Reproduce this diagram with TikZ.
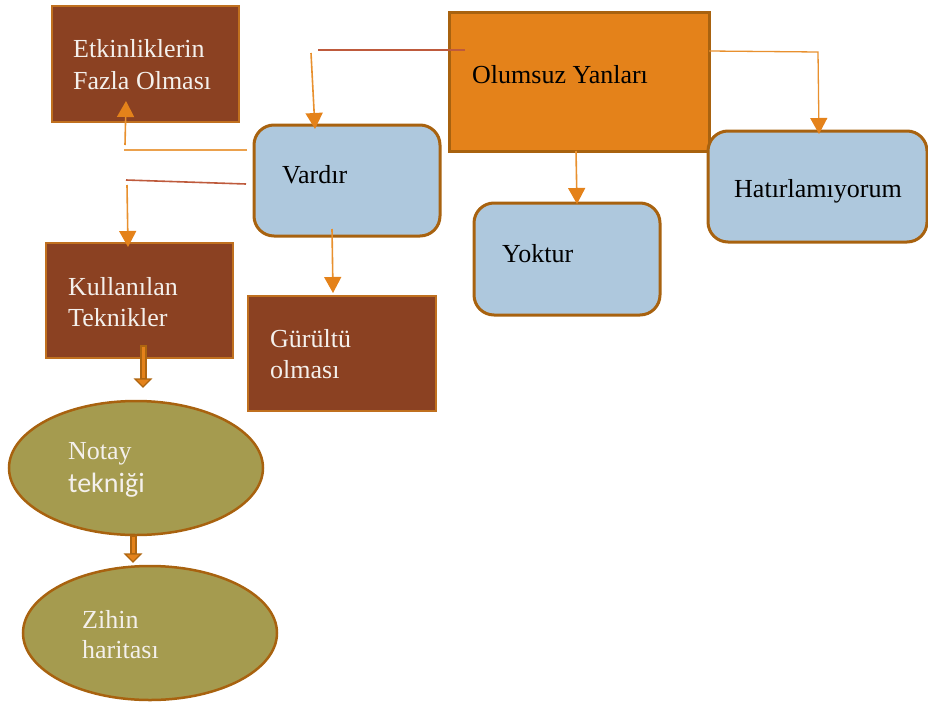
\documentclass[tikz,border=0pt]{standalone}
\usepackage{fontspec}
\setmainfont{Liberation Serif}
\newfontfamily\calibri{Carlito}
\usetikzlibrary{arrows.meta,shapes.geometric}

\definecolor{brownfill}{HTML}{8B4122}
\definecolor{brownedge}{HTML}{C0701F}
\definecolor{orangefill}{HTML}{E4821A}
\definecolor{darkedge}{HTML}{A8620F}
\definecolor{bluefill}{HTML}{AEC8DD}
\definecolor{olivefill}{HTML}{A59B4F}
\definecolor{linkorange}{HTML}{E8902E}
\definecolor{linkred}{HTML}{BE5A3C}
\definecolor{lighttext}{HTML}{F4F0EC}

\tikzset{
  box/.style={rectangle, inner sep=0pt, outer sep=0pt, anchor=north west},
  brownbox/.style={box, fill=brownfill, draw=brownedge, line width=1.5pt},
  orangebox/.style={box, fill=orangefill, draw=darkedge, line width=3pt},
  bluebox/.style={box, fill=bluefill, draw=darkedge, line width=3pt, rounded corners=20pt},
  oval/.style={ellipse, inner sep=0pt, outer sep=0pt, fill=olivefill, draw=darkedge, line width=2.5pt,
    minimum width=254pt, minimum height=134pt},
  lbl/.style={anchor=base west, inner sep=0pt, font=\fontsize{26}{31}\selectfont},
  darklbl/.style={lbl, text=black},
  lightlbl/.style={lbl, text=lighttext},
  arr/.style={draw=linkorange, line width=1.6pt, -{Triangle[width=17pt,length=16pt,fill=orangefill,color=orangefill]}},
  orangeline/.style={draw=linkorange!85!white, line width=1.6pt},
  redline/.style={draw=linkred, line width=1.6pt},
  shaft/.style={line width=7pt, draw=darkedge!90!orangefill},
  shaftcore/.style={line width=3pt, draw=orangefill},
  tiphead/.style={fill=orangefill, draw=darkedge!90!orangefill, line width=1.2pt, line join=miter},
}

\begin{document}
\begin{tikzpicture}[x=1pt, y=-1pt]
\useasboundingbox (0,0) rectangle (928,701);

% boxes
\node[brownbox, minimum width=187pt, minimum height=116pt] (ek) at (52,6) {};
\node[orangebox, minimum width=260pt, minimum height=138pt] (ol) at (449,13) {};
\node[bluebox, minimum width=186pt, minimum height=111pt] (va) at (254,125) {};
\node[bluebox, minimum width=219pt, minimum height=111pt] (ha) at (708,131) {};
\node[bluebox, minimum width=186pt, minimum height=112pt] (yo) at (474,203) {};
\node[brownbox, minimum width=187pt, minimum height=115pt] (ku) at (46,243) {};
\node[brownbox, minimum width=188pt, minimum height=115pt] (gu) at (248,296) {};
\node[oval] (no) at (136,468) {};
\node[oval] (zi) at (150,633) {};

% texts
\node[lightlbl] (ekt1) at (73,58) {Etkinliklerin};
\node[lightlbl] (ekt2) at (73,89) {Fazla Olması};
\node[darklbl] (olt) at (472,83) {Olumsuz Yanları};
\node[darklbl] (vat) at (282,183) {Vardır};
\node[darklbl] (hat) at (734,197) {Hatırlamıyorum};
\node[darklbl] (yot) at (502,262) {Yoktur};
\node[lightlbl] (kut1) at (68,295) {Kullanılan};
\node[lightlbl] (kut2) at (68,326) {Teknikler};
\node[lightlbl] (gut1) at (270,347) {Gürültü};
\node[lightlbl] (gut2) at (270,378) {olması};
\node[lightlbl] (not1) at (68,459) {Notay};
\node[lightlbl, font=\calibri\fontsize{28}{31}\selectfont] (not2) at (68,492) {tekniği};
\node[lightlbl] (zit1) at (82,628) {Zihin};
\node[lightlbl] (zit2) at (82,658) {haritası};

% connector end points
\coordinate (olA) at (465,50);
\coordinate (olB) at (318,50);
\coordinate (vaIn) at (311,53);
\coordinate (vaTip) at (315,129);
\coordinate (olR) at (709,51);
\coordinate (haBend) at (818,52);
\coordinate (haTip) at (819,134);
\coordinate (olD) at (576,151);
\coordinate (yoTip) at (577,204);
\coordinate (vaL1) at (247,150);
\coordinate (ekB) at (124,150);
\coordinate (ekS) at (125,145);
\coordinate (ekTip) at (126,101);
\coordinate (vaL2) at (246,184);
\coordinate (kuB) at (126,180);
\coordinate (kuS) at (127,185);
\coordinate (kuTip) at (128,247);
\coordinate (vaD) at (332,229);
\coordinate (guTip) at (333,293);

% Olumsuz Yanlari -> Vardir
\draw[redline] (olA) -- (olB);
\draw[arr] (vaIn) -- (vaTip);
% Olumsuz Yanlari -> Hatirlamiyorum
\draw[arr, line width=1.3pt] (olR) -- (haBend) -- (haTip);
% Olumsuz Yanlari -> Yoktur
\draw[arr] (olD) -- (yoTip);
% Vardir -> Etkinliklerin Fazla Olmasi
\draw[orangeline] (vaL1) -- (ekB);
\draw[arr] (ekS) -- (ekTip);
% Vardir -> Kullanilan Teknikler
\draw[redline] (vaL2) -- (kuB);
\draw[arr] (kuS) -- (kuTip);
% Vardir -> Gurultu olmasi
\draw[arr] (vaD) -- (guTip);

% hollow block arrows between the techniques
\coordinate (kuA) at (143,345);
\coordinate (kuAE) at (143,379);
\coordinate (noA) at (133,535);
\coordinate (noAE) at (133,554);
\draw[shaft] (kuA) -- (kuAE);
\draw[shaftcore] ([yshift=-1.5pt]kuA) -- ([yshift=1pt]kuAE);
\draw[tiphead] ([xshift=-8pt]kuAE) -- ([xshift=8pt]kuAE) -- ([yshift=-8pt]kuAE) -- cycle;
\draw[shaft] (noA) -- (noAE);
\draw[shaftcore] ([yshift=-1.5pt]noA) -- ([yshift=1pt]noAE);
\draw[tiphead] ([xshift=-8pt]noAE) -- ([xshift=8pt]noAE) -- ([yshift=-8pt]noAE) -- cycle;
\end{tikzpicture}
\end{document}
